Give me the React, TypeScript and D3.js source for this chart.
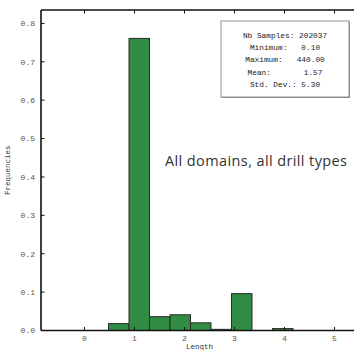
import React, { useEffect, useRef } from "react";
import * as d3 from "d3";

// histogram bins (Length) and their frequencies
const binEdges = [0.48, 0.89, 1.3, 1.71, 2.12, 2.53, 2.94, 3.35, 3.76, 4.17];
const frequencies = [0.018, 0.761, 0.036, 0.041, 0.02, 0.003, 0.096, 0, 0.005];

const xTicks = [0, 1, 2, 3, 4, 5];
const yTicks = [0, 0.1, 0.2, 0.3, 0.4, 0.5, 0.6, 0.7, 0.8];

const statLines = [
  "Nb Samples: 202037",
  "Minimum:   0.10",
  "Maximum:   440.00",
  "Mean:       1.57",
  "Std. Dev.: 5.30",
];

const title = "All domains, all drill types";

const mono = "'Liberation Mono', 'DejaVu Sans Mono', monospace";

export default function App() {
  const ref = useRef<SVGSVGElement>(null);

  useEffect(() => {
    const width = 354,
      height = 350;
    const left = 41,
      top = 10,
      bottom = 330.5;

    const x = d3.scaleLinear().domain([-0.87, 5.5]).range([left, left + 6.37 * 50]);
    const y = d3.scaleLinear().domain([0, 0.835]).range([bottom, top]);

    const svg = d3.select(ref.current);
    svg.selectAll("*").remove();
    svg.attr("width", width).attr("height", height);

    const bins = frequencies.map((f, i) => ({ x0: binEdges[i], x1: binEdges[i + 1], f }));

    svg
      .append("g")
      .selectAll("rect")
      .data(bins.filter((d) => d.f > 0))
      .join("rect")
      .attr("x", (d) => x(d.x0))
      .attr("y", (d) => y(d.f))
      .attr("width", (d) => x(d.x1) - x(d.x0))
      .attr("height", (d) => y(0) - y(d.f))
      .attr("fill", "#2f8c42")
      .attr("stroke", "#2b2b2b")
      .attr("stroke-width", 1);

    // frame lines
    const axisColor = "#111";
    svg
      .append("line")
      .attr("x1", left)
      .attr("x2", width)
      .attr("y1", bottom)
      .attr("y2", bottom)
      .attr("stroke", axisColor)
      .attr("stroke-width", 1.6);
    svg
      .append("line")
      .attr("x1", left)
      .attr("x2", width)
      .attr("y1", top)
      .attr("y2", top)
      .attr("stroke", axisColor)
      .attr("stroke-width", 1.6);
    svg
      .append("line")
      .attr("x1", left)
      .attr("x2", left)
      .attr("y1", top)
      .attr("y2", bottom)
      .attr("stroke", axisColor)
      .attr("stroke-width", 1.6);

    // x ticks, bottom and top, pointing inward
    const xt = svg.append("g");
    xt.selectAll("line.b")
      .data(xTicks)
      .join("line")
      .attr("class", "b")
      .attr("x1", (d) => x(d))
      .attr("x2", (d) => x(d))
      .attr("y1", bottom)
      .attr("y2", bottom - 3.5)
      .attr("stroke", axisColor);
    xt.selectAll("line.t")
      .data(xTicks)
      .join("line")
      .attr("class", "t")
      .attr("x1", (d) => x(d))
      .attr("x2", (d) => x(d))
      .attr("y1", top)
      .attr("y2", top + 3.5)
      .attr("stroke", axisColor);
    xt.selectAll("text")
      .data(xTicks)
      .join("text")
      .attr("x", (d) => x(d))
      .attr("y", 341)
      .attr("text-anchor", "middle")
      .attr("font-family", mono)
      .attr("font-size", 8)
      .attr("fill", "#555")
      .text((d) => d);

    // y ticks
    const yt = svg.append("g");
    yt.selectAll("line")
      .data(yTicks)
      .join("line")
      .attr("x1", left)
      .attr("x2", left + 3.5)
      .attr("y1", (d) => y(d))
      .attr("y2", (d) => y(d))
      .attr("stroke", axisColor);
    yt.selectAll("text")
      .data(yTicks)
      .join("text")
      .attr("x", 35)
      .attr("y", (d) => y(d))
      .attr("dy", "0.35em")
      .attr("text-anchor", "end")
      .attr("font-family", mono)
      .attr("font-size", 8)
      .attr("fill", "#555")
      .text((d) => d.toFixed(1));

    // axis titles
    svg
      .append("text")
      .attr("x", (left + width) / 2 + 2)
      .attr("y", 349)
      .attr("text-anchor", "middle")
      .attr("font-family", mono)
      .attr("font-size", 7.5)
      .attr("fill", "#333")
      .text("Length");
    svg
      .append("text")
      .attr("transform", `translate(10,${(top + bottom) / 2}) rotate(-90)`)
      .attr("text-anchor", "middle")
      .attr("font-family", mono)
      .attr("font-size", 7.5)
      .attr("fill", "#333")
      .text("Frequencies");

    // stats box
    const box = svg.append("g");
    box
      .append("rect")
      .attr("x", 222)
      .attr("y", 22)
      .attr("width", 128)
      .attr("height", 76)
      .attr("fill", "#999");
    box
      .append("rect")
      .attr("x", 221)
      .attr("y", 21)
      .attr("width", 128)
      .attr("height", 76)
      .attr("fill", "white")
      .attr("stroke", "#777")
      .attr("stroke-width", 0.8);
    box
      .selectAll("text")
      .data(statLines)
      .join("text")
      .attr("x", 285)
      .attr("y", (_, i) => 38 + i * 12.2)
      .attr("text-anchor", "middle")
      .attr("font-family", mono)
      .attr("font-size", 7.8)
      .attr("fill", "#222")
      .attr("xml:space", "preserve")
      .style("white-space", "pre")
      .text((d) => d);

    svg
      .append("text")
      .attr("x", 165)
      .attr("y", 166)
      .attr("font-family", "'Open Sans', 'Noto Sans', sans-serif")
      .attr("font-size", 14.5)
      .attr("fill", "#333")
      .attr("textLength", 182)
      .text(title);
  }, []);

  return (
    <div style={{ position: "absolute", left: 0, top: 0 }}>
      <svg ref={ref} style={{ display: "block" }}></svg>
    </div>
  );
}
